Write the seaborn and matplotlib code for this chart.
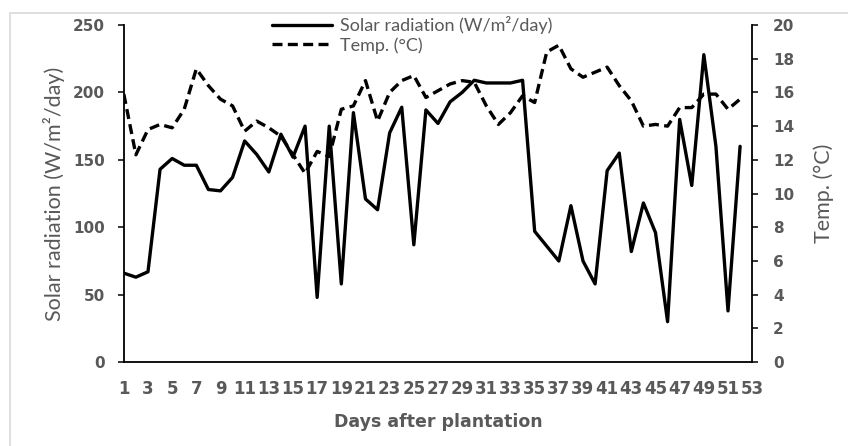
import numpy as np
import pandas as pd
import matplotlib
matplotlib.use("Agg")
import matplotlib.pyplot as plt
import seaborn as sns
from matplotlib.patches import Rectangle

# ---------- data ----------
days = list(range(1, 53))

solar = [66, 63, 67, 143, 151, 146, 146, 128, 127, 137,
         164, 154, 141, 169, 152, 175, 48, 175, 58, 185,
         121, 113, 170, 189, 87, 187, 177, 193, 200, 209,
         207, 207, 207, 209, 97, 86, 75, 116, 75, 58,
         142, 155, 82, 118, 96, 30, 180, 131, 228, 160,
         38, 160]

temp = [15.9, 12.3, 13.8, 14.1, 13.9, 15.0, 17.4, 16.4, 15.6, 15.2,
        13.7, 14.3, 13.9, 13.4, 12.3, 11.2, 12.5, 12.2, 15.0, 15.2,
        16.7, 14.3, 16.0, 16.7, 17.0, 15.7, 16.1, 16.5, 16.7, 16.6,
        15.2, 14.1, 14.8, 15.8, 15.4, 18.4, 18.8, 17.4, 16.9, 17.2,
        17.5, 16.4, 15.5, 14.0, 14.1, 14.0, 15.1, 15.1, 15.9, 15.9,
        15.0, 15.6]

x_ticks = list(range(1, 54, 2))
solar_ticks = [0, 50, 100, 150, 200, 250]
temp_ticks = list(range(0, 21, 2))

df = pd.DataFrame({"day": days, "solar": solar, "temp": temp})

# ---------- style ----------
sns.set_style("ticks")
plt.rcParams["font.family"] = ["Lato", "DejaVu Sans"]
gray = "#595959"
bold_font = {"family": "DejaVu Sans", "weight": "bold"}

fig = plt.figure(figsize=(8.48, 4.46), dpi=100)
ax = fig.add_axes([0.146, 0.188, 0.741, 0.756])

# light chart-area border
fig.patches.append(Rectangle((0.012, -0.01), 1.0, 0.981, transform=fig.transFigure,
                             fill=False, edgecolor="#d9d9d9", lw=1.2))

sns.lineplot(data=df, x="day", y="solar", ax=ax, color="black", lw=2.4,
             label="Solar radiation (W/m\u00b2/day)", legend=False)
ax2 = ax.twinx()
sns.lineplot(data=df, x="day", y="temp", ax=ax2, color="black", lw=2.4,
             linestyle=(0, (3, 1.6)), label="Temp. (\u00b0C)", legend=False)

ax.set_xlim(1, 53)
ax.set_ylim(0, 250)
ax2.set_ylim(0, 20)
ax.set_xticks(x_ticks)
ax.set_yticks(solar_ticks)
ax2.set_yticks(temp_ticks)

for a in (ax, ax2):
    a.spines["top"].set_visible(False)
    for s in a.spines.values():
        s.set_linewidth(1.3)
        s.set_color("black")
ax.spines["right"].set_visible(False)
ax2.spines["left"].set_visible(False)
ax2.spines["bottom"].set_visible(False)

ax.tick_params(axis="x", length=0, pad=13, labelcolor=gray)
ax.tick_params(axis="y", length=4.5, width=1.3, labelcolor=gray, pad=9)
ax2.tick_params(axis="y", length=4.5, width=1.3, labelcolor=gray, pad=10.5)
for lab in ax.get_yticklabels() + ax2.get_yticklabels():
    lab.set_fontproperties(bold_font)
    lab.set_fontsize(11)
for lab in ax.get_xticklabels():
    lab.set_fontproperties(bold_font)
    lab.set_fontsize(12)

ax.set_xlabel("Days after plantation", fontsize=12.5, color=gray, **bold_font)
ax.set_ylabel("Solar radiation (W/m\u00b2/day)", fontsize=15.5, color=gray)
ax2.set_ylabel("Temp. (\u00b0C)", fontsize=15.5, color=gray)
ax.xaxis.set_label_coords(0.5, -0.152)
ax.yaxis.set_label_coords(-0.094, 0.5)
ax2.yaxis.set_label_coords(1.097, 0.5)

h1, l1 = ax.get_legend_handles_labels()
h2, l2 = ax2.get_legend_handles_labels()
leg = fig.legend(h1 + h2, l1 + l2, loc="upper left", bbox_to_anchor=(0.3208, 0.964),
                 frameon=False, fontsize=13, handlelength=3.3, handletextpad=0.44,
                 labelspacing=0.17, borderpad=0, borderaxespad=0)
for t in leg.get_texts():
    t.set_color(gray)

fig.savefig("out.png", dpi=100)
